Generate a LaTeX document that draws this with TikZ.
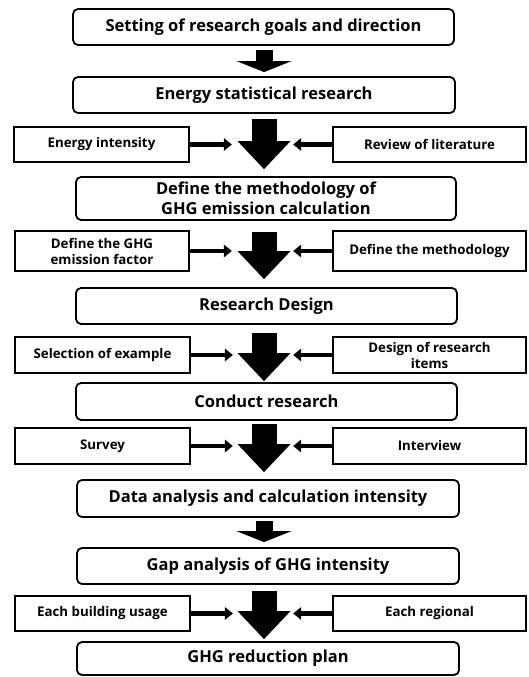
\documentclass[tikz,border=0pt]{standalone}
\usepackage{fontspec}
\setmainfont{Open Sans}
\usetikzlibrary{arrows.meta}
\begin{document}
\begin{tikzpicture}[x=1pt,y=-1pt,
  mainbox/.style={draw,line width=1.8pt,rounded corners=5pt,align=center,inner sep=0pt,
    font=\fontsize{16.5}{20}\selectfont\bfseries},
  sidebox/.style={draw,line width=1.6pt,align=center,inner sep=0pt,
    font=\fontsize{13.3}{16}\selectfont\bfseries},
  bigarrow/.style={line width=25pt,-{Triangle[width=53pt,length=28pt,line width=0pt]}},
  smallarrow/.style={line width=17pt,-{Triangle[width=55pt,length=11pt,line width=0pt]}},
  sidearrow/.style={line width=4.5pt,-{Triangle[width=13pt,length=8pt,line width=0pt]}}
]
\useasboundingbox (0,0) rectangle (529,677);
% main boxes
\node[mainbox,minimum width=381pt,minimum height=36pt] (b1) at (263.5,27) {Setting of research goals and direction};
\node[mainbox,minimum width=382pt,minimum height=36pt] (b2) at (264,95) {Energy statistical research};
\node[mainbox,minimum width=380pt,minimum height=43pt] (b3) at (266,198.5) {Define the methodology of\\GHG emission calculation};
\node[mainbox,minimum width=381pt,minimum height=36pt] (b4) at (266.5,306) {Research Design};
\node[mainbox,minimum width=381pt,minimum height=37pt] (b5) at (266.5,401.5) {Conduct research};
\node[mainbox,minimum width=382pt,minimum height=37pt] (b6) at (268,498.5) {Data analysis and calculation intensity};
\node[mainbox,minimum width=382pt,minimum height=36pt] (b7) at (268,566) {Gap analysis of GHG intensity};
\node[mainbox,minimum width=382pt,minimum height=33pt] (b8) at (268,658.5) {GHG reduction plan};
% side boxes
\node[sidebox,minimum width=175pt,minimum height=35pt] (l1) at (101.5,144.5) {Energy intensity};
\node[sidebox,minimum width=193pt,minimum height=35pt] (r1) at (429.5,144.5) {Review of literature};
\node[sidebox,minimum width=174pt,minimum height=40pt] (l2) at (102,251) {Define the GHG\\emission factor};
\node[sidebox,minimum width=193pt,minimum height=40pt] (r2) at (429.5,251) {Define the methodology};
\node[sidebox,minimum width=175pt,minimum height=36pt] (l3) at (102.5,355) {Selection of example};
\node[sidebox,minimum width=193pt,minimum height=36pt] (r3) at (429.5,355) {Design of research\\items};
\node[sidebox,minimum width=175pt,minimum height=36pt] (l4) at (102.5,446) {Survey};
\node[sidebox,minimum width=193pt,minimum height=36pt] (r4) at (429.5,446) {Interview};
\node[sidebox,minimum width=175pt,minimum height=35pt] (l5) at (102.5,613.5) {Each building usage};
\node[sidebox,minimum width=193pt,minimum height=35pt] (r5) at (429.5,613.5) {Each regional};
% vertical arrows
\draw[smallarrow,shorten <=4pt,shorten >=4pt] (b1.south -| 264,0) -- (b2.north -| 264,0);
\draw[bigarrow,shorten <=5pt,shorten >=7pt] (b2.south -| 264,0) -- (b3.north -| 264,0);
\draw[bigarrow,shorten <=11pt,shorten >=8pt] (b3.south -| 264,0) -- (b4.north -| 264,0);
\draw[bigarrow,shorten <=8pt,shorten >=1pt] (b4.south -| 264,0) -- (b5.north -| 264,0);
\draw[bigarrow,shorten <=3pt,shorten >=7pt] (b5.south -| 264,0) -- (b6.north -| 264,0);
\draw[smallarrow,shorten <=3pt,shorten >=5pt] (b6.south -| 264,0) -- (b7.north -| 264,0);
\draw[bigarrow,shorten <=6pt,shorten >=2pt] (b7.south -| 264,0) -- (b8.north -| 264,0);
% side arrows
\foreach \i in {1,...,5}{
  \draw[sidearrow] (l\i.east) -- ++(42,0);
  \draw[sidearrow] (r\i.west) -- ++(-39,0);
}
\end{tikzpicture}
\end{document}
